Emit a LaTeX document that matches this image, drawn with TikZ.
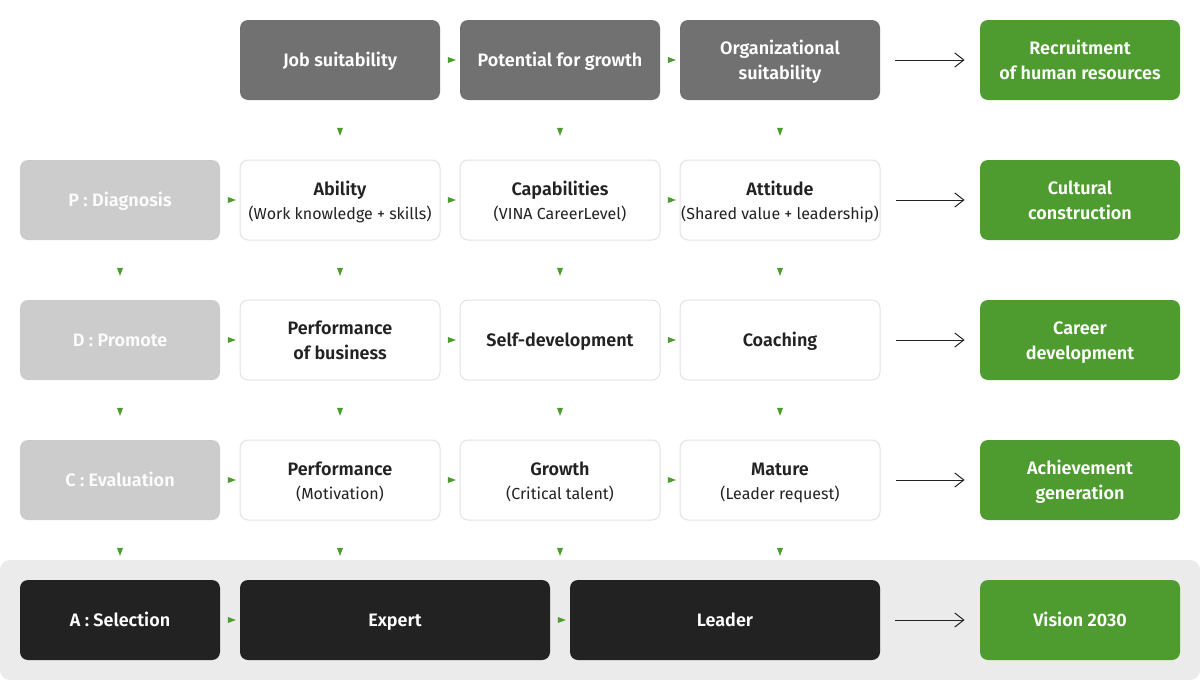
\documentclass[tikz,border=0pt]{standalone}
\usepackage{fontspec}
\setmainfont{Fira Sans}[BoldFont={Fira Sans SemiBold}]
\usetikzlibrary{arrows.meta}
\usetikzlibrary{shapes.geometric}

\definecolor{topgray}{HTML}{717171}
\definecolor{lightgray}{HTML}{CCCCCC}
\definecolor{nearblack}{HTML}{222222}
\definecolor{leafgreen}{HTML}{4E9C2F}
\definecolor{thinline}{HTML}{E3E3E3}
\definecolor{panelgray}{HTML}{EBEBEB}

\newcommand{\subline}[1]{\\[-0.4pt]{\mdseries\fontsize{8}{11}\selectfont #1}}

\begin{document}
\begin{tikzpicture}[x=0.5pt, y=-0.5pt,
  box/.style={rectangle, rounded corners=4pt, minimum width=100pt, minimum height=40pt,
              inner sep=0pt, align=center, font=\bfseries\fontsize{9}{12.5}\selectfont,
              execute at begin node={\rule{0pt}{9pt}},
              execute at end node={\rule[-2.8pt]{0pt}{2.8pt}}},
  pair/.style={execute at begin node={\rule{0pt}{22.5pt}}},
  topbox/.style={box, fill=topgray, text=white},
  phase/.style={box, fill=lightgray, text=white!94!lightgray},
  stepbox/.style={box, fill=white, draw=thinline, line width=0.5pt, text=nearblack},
  darkbox/.style={box, fill=nearblack, text=white},
  goal/.style={box, fill=leafgreen, text=white},
  rmark/.style={isosceles triangle, isosceles triangle stretches, fill=leafgreen,
                inner sep=0pt, minimum width=3pt, minimum height=4pt},
  dmark/.style={rmark, rotate=-90},
  flow/.style={-{Straight Barb[length=4.5pt, width=7pt]}, draw=nearblack, line width=0.5pt,
               shorten <=7.5pt, shorten >=7.5pt}]
\useasboundingbox (0,0) rectangle (1200,680);

  % grey stage behind the last row
  \node[rectangle, rounded corners=5pt, fill=panelgray, minimum width=600pt, minimum height=60pt,
        inner sep=0pt] (stage) at (600,620) {};

  % first row
  \node[topbox] (job) at (340,60) {Job suitability};
  \node[topbox] (grow) at (560,60) {Potential for growth};
  \node[topbox, pair] (org) at (780,60) {Organizational\\suitability};
  \node[goal, pair] (recruit) at (1080,60) {Recruitment\\of human resources};

  % P row
  \node[phase] (diag) at (120,200) {P : Diagnosis};
  \node[stepbox, pair] (ability) at (340,200) {Ability\subline{(Work knowledge + skills)}};
  \node[stepbox, pair] (capab) at (560,200) {Capabilities\subline{(VINA CareerLevel)}};
  \node[stepbox, pair] (attit) at (780,200) {Attitude\subline{(Shared value + leadership)}};
  \node[goal, pair] (culture) at (1080,200) {Cultural\\construction};

  % D row
  \node[phase] (promo) at (120,340) {D : Promote};
  \node[stepbox, pair] (perfbiz) at (340,340) {Performance\\of business};
  \node[stepbox] (selfdev) at (560,340) {Self-development};
  \node[stepbox] (coach) at (780,340) {Coaching};
  \node[goal, pair] (career) at (1080,340) {Career\\development};

  % C row
  \node[phase] (evalu) at (120,480) {C : Evaluation};
  \node[stepbox, pair] (perf) at (340,480) {Performance\subline{(Motivation)}};
  \node[stepbox, pair] (growth) at (560,480) {Growth\subline{(Critical talent)}};
  \node[stepbox, pair] (mature) at (780,480) {Mature\subline{(Leader request)}};
  \node[goal, pair] (achieve) at (1080,480) {Achievement\\generation};

  % A row
  \node[darkbox] (select) at (120,620) {A : Selection};
  \node[darkbox, minimum width=155pt] (expert) at (395,620) {Expert};
  \node[darkbox, minimum width=155pt] (leader) at (725,620) {Leader};
  \node[goal] (vision) at (1080,620) {Vision 2030};

  % small green marks between boxes
  \path (job) -- node[rmark] {} (grow);
  \path (grow) -- node[rmark] {} (org);
  \path (diag) -- node[rmark] {} (ability);
  \path (ability) -- node[rmark] {} (capab);
  \path (capab) -- node[rmark] {} (attit);
  \path (promo) -- node[rmark] {} (perfbiz);
  \path (perfbiz) -- node[rmark] {} (selfdev);
  \path (selfdev) -- node[rmark] {} (coach);
  \path (evalu) -- node[rmark] {} (perf);
  \path (perf) -- node[rmark] {} (growth);
  \path (growth) -- node[rmark] {} (mature);
  \path (select) -- node[rmark] {} (expert);
  \path (expert) -- node[rmark] {} (leader);

  \path (job) -- node[dmark] {} (ability);
  \path (grow) -- node[dmark] {} (capab);
  \path (org) -- node[dmark] {} (attit);
  \path (diag) -- node[dmark] {} (promo);
  \path (ability) -- node[dmark] {} (perfbiz);
  \path (capab) -- node[dmark] {} (selfdev);
  \path (attit) -- node[dmark] {} (coach);
  \path (promo) -- node[dmark] {} (evalu);
  \path (perfbiz) -- node[dmark] {} (perf);
  \path (selfdev) -- node[dmark] {} (growth);
  \path (coach) -- node[dmark] {} (mature);
  \path (evalu) -- node[dmark] {} (select);
  \path (perf) -- node[dmark] {} (expert.north -| perf);
  \path (growth) -- node[dmark] {} (leader.north -| growth);
  \path (mature) -- node[dmark] {} (leader.north -| mature);

  % arrows to the goals
  \draw[flow] (org) -- (recruit);
  \draw[flow] (attit) -- (culture);
  \draw[flow] (coach) -- (career);
  \draw[flow] (mature) -- (achieve);
  \draw[flow] (leader) -- (vision);

\end{tikzpicture}
\end{document}
